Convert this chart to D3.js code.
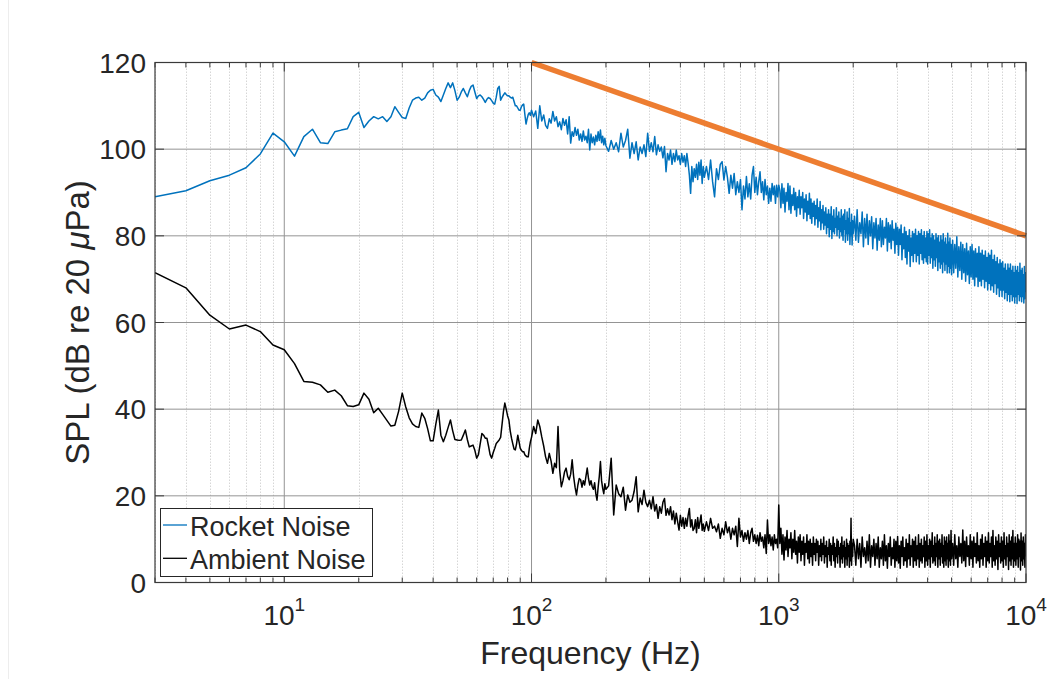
<!DOCTYPE html>
<html><head><meta charset="utf-8">
<script src="https://cdn.jsdelivr.net/npm/d3@7"></script>
<style>
body{margin:0;background:#fff}
svg{display:block}
text{font-family:"Liberation Sans",Arial,Helvetica,sans-serif;fill:#262626}
</style>
</head><body>
<svg id="chart" width="1053" height="679"></svg>
<script>
// ---------------- DATA ----------------
const seriesNames = ["Rocket Noise", "Ambient Noise"];
const yTickValues = [0, 20, 40, 60, 80, 100, 120];
const xTickExponents = [1, 2, 3, 4];
const refLineFreq = [100, 10000];
const refLineDb = [120, 80];

// segment 1 : 3 .. 99 Hz
const freqSeg1 = [3,4,5,6,7,8,9,10,11,12,13,14,15,16,17,18,19,20,21,22,23,24,25,26,27,28,29,30,31,32,33,34,35,36,37,38,39,40,41,42,43,44,45,46,47,48,49,50,51,52,53,54,55,56,57,58,59,60,61,62,63,64,65,66,67,68,69,70,71,72,73,74,75,76,77,78,79,80,81,82,83,84,85,86,87,88,89,90,91,92,93,94,95,96,97,98,99];
const rocketSeg1 = [89.0,90.4,92.7,94.0,95.7,98.9,103.7,101.7,98.4,102.9,
104.6,101.5,101.3,104.0,104.4,104.7,107.5,108.5,105.0,106.5,
107.5,107.0,107.5,106.4,107.5,109.8,108.5,107.3,107.1,109.5,
111.3,111.8,112.0,111.3,111.8,113.0,113.6,113.8,112.5,112.0,
111.0,112.5,114.0,115.3,114.2,115.3,113.5,111.3,112.0,113.2,
114.0,113.0,112.1,113.5,114.5,114.8,113.2,111.7,112.3,112.5,
112.1,111.5,110.8,111.5,111.9,111.7,111.2,110.6,110.4,112.0,
114.0,114.5,111.3,112.0,112.5,113.0,112.6,112.3,112.3,112.0,
111.8,112.0,111.0,110.0,110.0,109.5,109.0,109.0,109.8,110.2,
110.4,108.0,105.8,107.0,108.0,108.4,107.8];
const ambientSeg1 = [71.5,68.0,61.7,58.5,59.4,57.9,54.8,53.7,50.5,46.4,
46.2,45.6,43.9,44.4,43.1,40.8,40.6,41.0,43.7,42.3,
39.2,40.2,38.8,37.4,36.1,36.3,39.5,43.7,40.5,38.0,
36.6,36.0,35.8,39.1,37.9,35.5,32.7,32.7,36.5,39.8,
34.0,32.5,34.0,35.8,37.5,35.0,33.0,32.9,32.8,32.9,
34.0,35.2,33.0,31.3,31.5,31.7,30.5,28.7,29.5,32.0,
34.4,34.0,33.3,33.3,31.5,29.5,28.7,30.0,31.0,32.1,
32.5,32.9,33.5,36.5,39.5,41.4,40.0,38.5,37.5,35.0,
33.3,32.0,30.8,30.6,32.0,34.0,32.5,31.0,30.5,30.2,
30.2,29.5,29.2,29.0,29.0,31.0,32.5];

// segment 2 : 100 .. 200 Hz
const freqSeg2 = [100,102,104,106,108,110,112,114,116,118,120,122,124,126,128,130,132,134,136,138,140,142,144,146,148,150,152,154,156,158,160,162,164,166,168,170,172,174,176,178,180,182,184,186,188,190,192,194,196,198,200];
const rocketSeg2 = [109.0,107.5,108.8,104.8,110.0,106.5,107.9,105.5,104.8,107.0,
106.0,108.7,106.5,107.5,105.2,106.3,104.5,107.1,105.5,106.8,
103.5,107.5,101.4,104.0,103.0,105.0,103.2,104.6,102.1,103.5,
101.8,104.2,102.1,103.0,101.5,104.6,99.8,103.5,101.5,102.8,
101.0,103.2,101.8,104.0,102.0,104.4,101.5,103.0,101.0,102.5,
100.8];
const ambientSeg2 = [33.5,36.0,34.4,37.5,36.0,33.6,31.5,29.0,27.5,29.8,
28.0,25.2,27.5,26.5,36.0,26.0,22.1,23.5,25.5,26.4,
24.5,23.7,25.0,28.3,24.5,22.0,20.2,22.5,24.0,23.7,
22.0,23.5,22.5,24.5,26.4,24.0,22.5,23.5,22.1,21.5,
23.0,20.5,19.0,22.0,24.5,27.9,23.5,21.7,20.5,22.8,
21.5];

// segment 3 : 205 .. 500 Hz
const freqSeg3 = [205,210,215,220,225,230,235,240,245,250,255,260,265,270,275,280,285,290,295,300,305,310,315,320,325,330,335,340,345,350,355,360,365,370,375,380,385,390,395,400,405,410,415,420,425,430,435,440,445,450,455,460,465,470,475,480,485,490,495,500];
const rocketSeg3 = [99.5,102.0,100.0,101.5,99.4,103.7,100.5,102.0,104.6,97.9,
101.5,99.0,101.7,97.5,100.5,99.0,101.0,98.3,103.7,99.5,
101.5,99.4,102.9,98.7,101.0,99.5,100.5,98.0,100.6,94.8,
99.0,97.5,99.8,96.5,99.0,97.1,99.8,97.5,98.5,96.5,
99.0,97.0,98.5,96.0,99.0,96.7,94.0,89.8,96.0,92.5,
95.5,93.5,96.5,93.0,97.0,94.0,97.5,92.1,96.0,93.5];
const ambientSeg3 = [22.3,28.7,15.6,22.5,20.5,19.8,22.0,16.7,20.2,18.5,
19.0,21.0,24.4,16.3,19.5,18.0,21.3,18.5,17.5,19.0,
17.0,19.8,16.5,18.0,14.8,17.5,16.0,18.5,19.4,15.5,
17.0,15.6,17.5,14.5,16.5,13.5,16.0,14.0,12.1,15.5,
13.0,15.0,12.5,14.8,13.0,15.5,17.1,12.8,14.5,12.0,
12.5,14.5,11.5,15.0,12.5,14.0,15.6,12.0,13.5,11.8];

// segment 4 : 510 .. 1000 Hz
const freqSeg4 = [510,520,530,540,550,560,570,580,590,600,610,620,630,640,650,660,670,680,690,700,710,720,730,740,750,760,770,780,790,800,810,820,830,840,850,860,870,880,890,900,910,920,930,940,950,960,970,980,990,1000];
const rocketSeg4 = [96.0,93.0,97.5,92.5,89.0,95.5,93.0,96.5,97.1,92.9,
96.0,93.5,89.8,94.0,91.0,94.4,89.5,92.5,90.0,93.0,
86.0,91.5,88.5,93.7,89.0,92.0,88.5,94.0,96.0,90.0,
93.5,89.5,92.5,94.8,90.0,92.5,88.3,93.0,89.5,91.5,
87.5,91.0,88.0,92.1,89.5,91.5,87.5,91.7,89.0,91.7];
const ambientSeg4 = [14.0,12.0,14.8,12.5,13.0,11.7,13.5,10.2,12.5,11.0,
14.0,11.5,12.8,10.0,12.5,11.0,13.0,8.3,14.8,10.5,
12.0,9.5,11.5,10.0,12.0,9.0,11.5,12.5,9.5,11.0,
9.0,10.9,8.5,11.5,9.5,10.5,8.0,11.0,6.7,14.4,
9.0,11.0,8.5,10.5,7.5,11.0,9.0,10.0,8.0,17.9];

// segment 5 : 1010 .. 2000 Hz
const freqSeg5 = [1010,1020,1030,1040,1050,1060,1070,1080,1090,1100,
1110,1120,1130,1140,1150,1160,1170,1180,1190,1200,
1210,1220,1230,1240,1250,1260,1270,1280,1290,1300,
1310,1320,1330,1340,1350,1360,1370,1380,1390,1400,
1410,1420,1430,1440,1450,1460,1470,1480,1490,1500,
1510,1520,1530,1540,1550,1560,1570,1580,1590,1600,
1610,1620,1630,1640,1650,1660,1670,1680,1690,1700,
1710,1720,1730,1740,1750,1760,1770,1780,1790,1800,
1810,1820,1830,1840,1850,1860,1870,1880,1890,1900,
1910,1920,1930,1940,1950,1960,1970,1980,1990,2000];
const rocketSeg5 = [90.5,86.5,92.0,87.5,91.0,85.5,90.0,88.0,92.1,86.0,
91.5,85.2,89.5,87.0,91.0,86.0,90.0,84.5,89.0,86.5,
90.5,85.0,89.0,86.5,90.0,84.0,88.5,85.5,89.5,83.5,
88.0,85.0,89.8,84.0,88.5,82.9,87.5,84.5,88.0,82.5,
87.0,84.0,88.5,82.0,86.5,83.5,87.9,81.4,86.0,83.0,
87.0,81.5,85.5,82.5,86.5,80.5,85.0,82.0,86.0,79.8,
85.0,81.5,86.7,79.4,84.5,81.0,86.0,80.5,84.0,82.0,
86.5,80.0,84.5,81.5,85.5,79.5,84.0,81.0,86.0,80.0,
84.5,79.0,85.0,81.5,86.0,78.5,83.5,80.5,85.5,79.0,
84.0,80.5,86.3,78.0,83.0,80.0,85.0,77.9,83.5,80.5];
const ambientSeg5 = [9.0,12.5,6.5,11.0,5.2,10.5,7.5,12.0,6.0,10.0,
8.0,11.5,5.5,10.0,7.0,12.0,6.5,9.5,4.5,10.5,
7.0,11.0,5.0,9.5,6.5,10.5,4.0,9.0,7.0,11.0,
5.5,9.5,4.5,10.0,6.0,9.0,4.0,10.5,6.5,9.0,
5.0,10.0,7.0,9.5,4.0,8.5,6.0,10.0,5.0,9.0,
6.5,10.5,4.5,8.5,6.0,9.5,3.5,8.0,6.5,10.0,
5.0,9.0,4.0,8.5,6.5,10.5,5.0,9.0,3.5,8.0,
6.0,10.0,4.5,9.5,6.5,8.0,3.5,9.0,5.5,10.5,
4.5,8.5,6.0,9.5,3.5,8.0,5.5,10.0,4.0,9.0,
6.0,8.5,3.5,9.5,5.0,14.8,4.0,9.0,6.0,10.0];

// segment 6 : 2025 .. 5000 Hz
const freqSeg6 = [2025,2050,2075,2100,2125,2150,2175,2200,2225,2250,
2275,2300,2325,2350,2375,2400,2425,2450,2475,2500,
2525,2550,2575,2600,2625,2650,2675,2700,2725,2750,
2775,2800,2825,2850,2875,2900,2925,2950,2975,3000,
3025,3050,3075,3100,3125,3150,3175,3200,3225,3250,
3275,3300,3325,3350,3375,3400,3425,3450,3475,3500,
3525,3550,3575,3600,3625,3650,3675,3700,3725,3750,
3775,3800,3825,3850,3875,3900,3925,3950,3975,4000,
4025,4050,4075,4100,4125,4150,4175,4200,4225,4250,
4275,4300,4325,4350,4375,4400,4425,4450,4475,4500,
4525,4550,4575,4600,4625,4650,4675,4700,4725,4750,
4775,4800,4825,4850,4875,4900,4925,4950,4975,5000];
const rocketSeg6 = [84.5,79.0,86.0,78.5,83.0,80.5,85.5,77.5,84.0,79.5,
85.0,78.0,83.5,80.0,84.4,77.0,83.0,79.5,84.0,76.7,
82.5,79.0,84.0,77.5,83.5,78.0,82.0,79.5,84.0,76.5,
83.0,78.5,82.5,77.0,83.5,79.0,81.5,76.0,82.9,78.0,
82.0,75.5,81.5,78.0,82.5,74.5,80.5,77.0,82.0,75.0,
81.0,73.5,80.0,76.5,81.4,72.9,79.5,75.5,81.0,74.0,
80.5,76.0,81.5,74.0,80.0,75.5,81.0,73.5,80.5,76.0,
81.4,74.5,80.0,73.7,81.0,75.0,79.5,74.0,81.0,73.5,
80.5,75.5,81.4,73.7,79.5,75.0,80.5,72.5,80.0,74.5,
79.0,73.0,80.5,75.0,79.5,72.0,80.0,74.0,78.5,72.5,
80.0,73.5,79.0,71.5,80.5,74.0,78.5,72.0,79.5,73.5,
78.0,71.4,80.6,73.0,78.5,71.5,79.5,72.5,78.0,71.0];
const ambientSeg6 = [8.5,4.0,10.0,5.5,9.0,3.5,10.5,6.0,8.0,4.5,
9.5,5.0,11.0,3.5,8.5,6.0,10.0,4.0,9.0,5.5,
10.5,3.5,8.0,5.5,9.5,4.0,11.0,5.0,8.5,3.3,
9.0,6.0,10.5,4.0,8.0,5.5,10.0,3.5,9.5,5.0,
10.6,4.5,8.5,3.3,9.5,6.0,10.5,4.0,8.0,5.0,
10.0,3.5,9.0,5.5,11.0,4.0,8.5,6.0,10.0,3.5,
9.5,5.0,10.5,4.0,8.5,5.5,11.0,3.5,9.0,5.0,
10.0,4.5,8.5,6.0,10.5,3.5,9.5,5.0,11.0,4.0,
8.5,5.5,10.0,3.5,9.5,6.0,11.5,4.5,8.5,5.0,
10.5,4.0,9.0,6.0,11.0,3.5,9.5,5.5,10.0,4.0,
9.0,6.0,11.0,4.5,8.5,3.5,10.5,5.0,9.5,4.0,
10.5,5.5,9.0,3.5,11.0,5.0,9.5,4.0,12.0,5.5];

// segment 7 : 5050 .. 10000 Hz
const freqSeg7 = [5050,5100,5150,5200,5250,5300,5350,5400,5450,5500,
5550,5600,5650,5700,5750,5800,5850,5900,5950,6000,
6050,6100,6150,6200,6250,6300,6350,6400,6450,6500,
6550,6600,6650,6700,6750,6800,6850,6900,6950,7000,
7050,7100,7150,7200,7250,7300,7350,7400,7450,7500,
7550,7600,7650,7700,7750,7800,7850,7900,7950,8000,
8050,8100,8150,8200,8250,8300,8350,8400,8450,8500,
8550,8600,8650,8700,8750,8800,8850,8900,8950,9000,
9050,9100,9150,9200,9250,9300,9350,9400,9450,9500,
9550,9600,9650,9700,9750,9800,9850,9900,9950,10000];
const rocketSeg7 = [79.0,71.5,78.0,72.5,79.8,70.5,77.5,72.0,78.5,70.0,
78.0,71.5,77.0,69.5,78.3,71.0,76.5,69.0,77.5,70.5,
78.0,70.0,76.5,68.5,77.0,70.5,76.0,68.3,77.5,69.5,
76.0,68.5,76.7,70.0,75.5,68.0,76.5,69.5,75.0,67.5,
76.0,69.0,75.5,67.5,76.7,68.5,74.5,67.0,75.5,69.0,
74.0,66.5,75.0,68.0,73.5,66.0,74.5,67.5,73.7,66.0,
74.0,67.5,72.5,65.5,73.5,67.0,72.0,65.0,73.5,66.5,
72.5,64.8,73.5,66.5,72.0,65.0,73.0,66.0,71.5,64.5,
73.0,66.0,72.0,64.4,72.9,66.5,71.5,65.0,73.7,66.0,
72.0,64.8,72.5,66.0,71.0,64.5,72.9,65.5,71.5,67.0];
const ambientSeg7 = [9.0,4.0,11.0,5.5,8.5,3.5,10.5,6.0,9.0,4.5,
12.1,5.0,9.5,3.7,10.5,6.0,8.5,4.0,11.0,5.5,
9.5,3.5,10.5,6.0,9.0,4.5,11.5,5.0,8.5,3.5,
10.0,5.5,11.0,4.0,9.0,6.0,10.5,3.5,9.5,5.0,
11.5,4.5,9.0,6.0,10.5,3.5,12.0,5.0,8.5,4.0,
10.5,5.5,9.5,3.0,11.0,6.0,9.0,4.5,10.5,5.0,
9.5,3.5,11.5,5.5,8.5,4.0,10.5,6.0,9.0,3.0,
11.0,5.0,9.5,4.0,10.5,5.5,12.0,3.5,9.0,5.0,
10.5,4.0,9.0,5.5,11.0,3.5,10.0,6.0,9.5,2.9,
11.4,5.0,9.5,4.0,10.5,5.5,9.0,3.5,11.0,6.0];

const freq = [].concat(freqSeg1, freqSeg2, freqSeg3, freqSeg4, freqSeg5, freqSeg6, freqSeg7);
const rocketDb = [].concat(rocketSeg1, rocketSeg2, rocketSeg3, rocketSeg4, rocketSeg5, rocketSeg6, rocketSeg7);
const ambientDb = [].concat(ambientSeg1, ambientSeg2, ambientSeg3, ambientSeg4, ambientSeg5, ambientSeg6, ambientSeg7);

// ---------------- CHART ----------------
const W = 1053, H = 679;
const P = {left: 155, right: 1026, top: 62.5, bottom: 582.5};
const x = d3.scaleLog().domain([3, 10000]).range([P.left, P.right]);
const y = d3.scaleLinear().domain([0, 120]).range([P.bottom, P.top]);

const svg = d3.select("#chart");
svg.append("rect").attr("width", W).attr("height", H).attr("fill", "#fff");
svg.append("line").attr("x1", 8.5).attr("x2", 8.5).attr("y1", 0).attr("y2", H)
  .attr("stroke", "#ededed").attr("stroke-width", 1);

svg.append("defs").append("clipPath").attr("id", "plotclip")
  .append("rect").attr("x", P.left).attr("y", P.top)
  .attr("width", P.right - P.left).attr("height", P.bottom - P.top);

const allXTicks = x.ticks();
const isMajor = v => Math.abs(Math.log10(v) - Math.round(Math.log10(v))) < 1e-9;
const minorX = allXTicks.filter(v => !isMajor(v));
const majorX = xTickExponents.map(e => Math.pow(10, e));

const grid = svg.append("g");
grid.selectAll("line.minor").data(minorX).join("line")
  .attr("x1", d => Math.round(x(d)) + 0.5).attr("x2", d => Math.round(x(d)) + 0.5)
  .attr("y1", P.top).attr("y2", P.bottom)
  .attr("stroke", "#d6d6d6").attr("stroke-width", 1).attr("stroke-dasharray", "1.5,1.5");
grid.selectAll("line.majx").data(majorX.filter(v => v < 10000)).join("line")
  .attr("x1", d => x(d)).attr("x2", d => x(d))
  .attr("y1", P.top).attr("y2", P.bottom)
  .attr("stroke", "#949494").attr("stroke-width", 1);
svg.append("g").selectAll("line").data(yTickValues.filter(v => v > 0 && v < 120)).join("line")
  .attr("x1", P.left).attr("x2", P.right)
  .attr("y1", d => y(d)).attr("y2", d => y(d))
  .attr("stroke", "#949494").attr("stroke-width", 1);

// series
const plot = svg.append("g").attr("clip-path", "url(#plotclip)");
const line = d3.line().x(d => x(d[0])).y(d => y(d[1]));
const rocketPts = freq.map((f, i) => [f, rocketDb[i]]).filter(d => d[1] !== undefined);
const ambientPts = freq.map((f, i) => [f, ambientDb[i]]).filter(d => d[1] !== undefined);
plot.append("path").datum(rocketPts).attr("d", line)
  .attr("fill", "none").attr("stroke", "#0072BD").attr("stroke-width", 1.5).attr("stroke-linejoin", "round");
plot.append("path").datum(ambientPts).attr("d", line)
  .attr("fill", "none").attr("stroke", "#000").attr("stroke-width", 1.5).attr("stroke-linejoin", "round");

// reference slope line
svg.append("path").datum(refLineFreq.map((f, i) => [f, refLineDb[i]])).attr("d", line)
  .attr("fill", "none").attr("stroke", "#ED7D31").attr("stroke-width", 5.5);

// axes box and ticks
const axisCol = "#3a3a3a";
svg.append("rect").attr("x", P.left).attr("y", P.top)
  .attr("width", P.right - P.left).attr("height", P.bottom - P.top)
  .attr("fill", "none").attr("stroke", axisCol).attr("stroke-width", 1.2);
const ticks = svg.append("g").attr("stroke", axisCol).attr("stroke-width", 1);
allXTicks.forEach(v => {
  const len = isMajor(v) ? 9 : 5;
  const xv = x(v);
  ticks.append("line").attr("x1", xv).attr("x2", xv).attr("y1", P.bottom).attr("y2", P.bottom - len);
  ticks.append("line").attr("x1", xv).attr("x2", xv).attr("y1", P.top).attr("y2", P.top + len);
});
yTickValues.forEach(v => {
  ticks.append("line").attr("x1", P.left).attr("x2", P.left + 9).attr("y1", y(v)).attr("y2", y(v));
  ticks.append("line").attr("x1", P.right).attr("x2", P.right - 9).attr("y1", y(v)).attr("y2", y(v));
});

// tick labels
svg.append("g").selectAll("text").data(yTickValues).join("text")
  .attr("x", 146).attr("y", d => y(d)).attr("dy", "0.36em")
  .attr("text-anchor", "end").attr("font-size", 28).text(d => d);

const xl = svg.append("g").selectAll("text").data(xTickExponents).join("text")
  .attr("x", d => x(Math.pow(10, d))).attr("y", 625)
  .attr("text-anchor", "middle").attr("font-size", 28);
xl.append("tspan").text("10");
xl.append("tspan").attr("dy", -14).attr("font-size", 19).text(d => d);

// axis labels
svg.append("text").attr("x", (P.left + P.right) / 2).attr("y", 664)
  .attr("text-anchor", "middle").attr("font-size", 32).text("Frequency (Hz)");
const yl = svg.append("text")
  .attr("transform", `translate(77,${(P.top + P.bottom) / 2}) rotate(-90)`)
  .attr("text-anchor", "middle").attr("dy", "0.35em").attr("font-size", 33);
yl.append("tspan").text("SPL (dB re 20 ");
yl.append("tspan").attr("font-style", "italic").text("\u03bc");
yl.append("tspan").text("Pa)");

// legend
const lg = svg.append("g");
lg.append("rect").attr("x", 160.5).attr("y", 508.5).attr("width", 212).attr("height", 68)
  .attr("fill", "#fff").attr("stroke", "#262626").attr("stroke-width", 1);
const legendColors = ["#0072BD", "#000"];
seriesNames.forEach((name, i) => {
  const cy = 525 + i * 33.3;
  lg.append("line").attr("x1", 163).attr("x2", 187).attr("y1", cy).attr("y2", cy)
    .attr("stroke", legendColors[i]).attr("stroke-width", 1.3);
  lg.append("text").attr("x", 190).attr("y", cy + 10.5).attr("font-size", 27).attr("fill", "#000").text(name);
});
</script>
</body></html>
